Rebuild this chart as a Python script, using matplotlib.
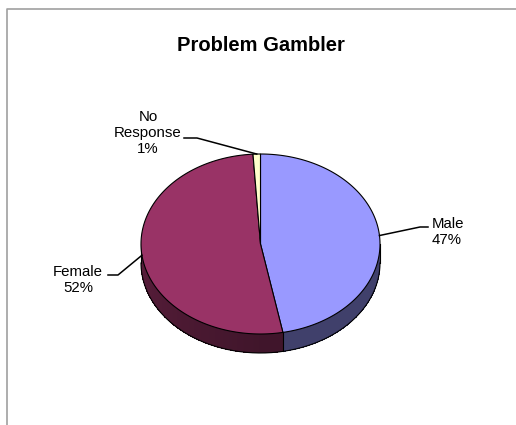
import numpy as np
import matplotlib.pyplot as plt
from matplotlib.patches import Polygon

# Dados
labels = ['Male', 'Female', 'No Response']
shares = [47, 52, 1]
colors = ['#9999FF', '#993366', '#FFFFCC']
title = 'Problem Gambler'

# Geometria da pizza 3D (pixels)
cx, cy = 260.5, 244.0
rx, ry = 119.5, 90.0
depth = 19.0


def top_pt(t):
    # t em graus, sentido horario a partir do topo
    r = np.radians(t)
    return cx + rx * np.sin(r), cy - ry * np.cos(r)


def arc(a, b, off=0.0, n=None):
    if n is None:
        n = max(2, int(abs(b - a) * 2))
    ts = np.linspace(a, b, n)
    xs, ys = top_pt(ts)
    return np.column_stack([xs, ys + off])


def shade(hexcol, f):
    c = np.array([int(hexcol[i:i + 2], 16) for i in (1, 3, 5)]) / 255.0
    return tuple(np.clip(c * f, 0, 1))


fig = plt.figure(figsize=(5.16, 4.25), dpi=100)
ax = fig.add_axes([0, 0, 1, 1])
ax.set_xlim(0, 516)
ax.set_ylim(425, 0)
ax.axis('off')

# moldura cinza (topo e esquerda)
ax.plot([7, 7, 516], [425, 9, 9], color='#a0a0a0', lw=1.2, solid_capstyle='butt')

total = float(sum(shares))
bounds = np.concatenate([[0], np.cumsum(shares) / total * 360.0])

# lateral da pizza (so a metade da frente, entre 90 e 270 graus)
for i in range(len(shares)):
    a, b = max(bounds[i], 90), min(bounds[i + 1], 270)
    if b <= a:
        continue
    steps = np.linspace(a, b, int((b - a) * 1.5) + 2)
    for s0, s1 in zip(steps[:-1], steps[1:]):
        tm = 0.5 * (s0 + s1)
        f = 0.42 + 0.16 * max(0.0, (tm - 180) / 90)
        # faixa um pouco mais larga para nao deixar frestas
        top = arc(max(a, s0 - 0.4), min(b, s1 + 0.4), n=2)
        bot = arc(min(b, s1 + 0.4), max(a, s0 - 0.4), off=depth, n=2)
        ax.add_patch(Polygon(np.vstack([top, bot]), closed=True,
                             facecolor=shade(colors[i], f), edgecolor='none',
                             antialiased=False, zorder=2))

# contornos da lateral
bot = arc(90, 270, off=depth)
ax.plot(bot[:, 0], bot[:, 1], color='black', lw=0.8, zorder=3)
for t in [90, 270] + [t for t in bounds[1:-1] if 90 < t < 270]:
    x, y = top_pt(t)
    ax.plot([x, x], [y, y + depth], color='black', lw=0.8, zorder=3)

# face superior
for i in range(len(shares)):
    pts = np.vstack([[cx, cy], arc(bounds[i], bounds[i + 1])])
    ax.add_patch(Polygon(pts, closed=True, facecolor=colors[i],
                         edgecolor='black', lw=0.8, zorder=4))

# rotulos com linhas de chamada
pct = [f'{round(v / total * 100):.0f}%' for v in shares]
mids = 0.5 * (bounds[:-1] + bounds[1:])

# Male
x0, y0 = top_pt(mids[0])
ax.plot([x0, 420, 428], [y0, 227, 227], color='black', lw=1.1, zorder=5)
ax.text(432, 232, f'{labels[0]}\n{pct[0]}', ha='left', va='center',
        fontsize=10.8, family='Liberation Sans', linespacing=1.2)

# Female
x1, y1 = top_pt(mids[1])
ax.plot([x1, 118, 108], [y1, 275, 275], color='black', lw=1.1, zorder=5)
ax.text(78, 280, f'{labels[1]}\n{pct[1]}', ha='center', va='center',
        fontsize=10.8, family='Liberation Sans', linespacing=1.2)

# No Response
x2, y2 = top_pt(mids[2])
ax.plot([x2, 197, 184], [y2, 138, 138], color='black', lw=1.1, zorder=5)
ax.text(148, 133, 'No\nResponse\n' + pct[2], ha='center', va='center',
        fontsize=10.8, family='Liberation Sans', linespacing=1.2)

ax.text(261, 45, title, ha='center', va='center', fontsize=14.5,
        fontweight='bold', family='Liberation Sans')

fig.savefig('out.png', dpi=100, facecolor='white')
